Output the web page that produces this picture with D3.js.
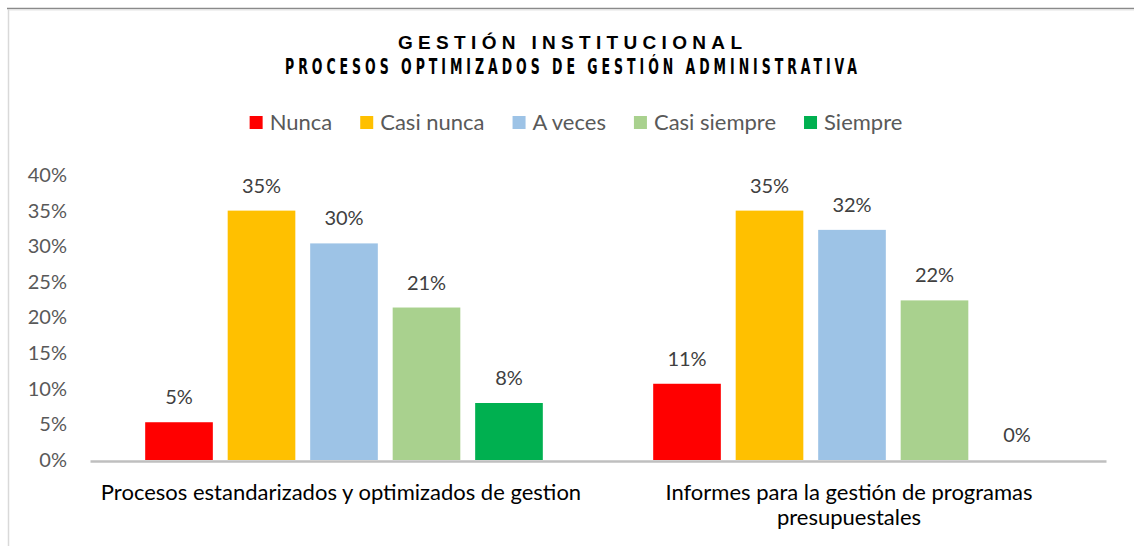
<!DOCTYPE html>
<html>
<head>
<meta charset="utf-8">
<script src="https://cdn.jsdelivr.net/npm/d3@7"></script>
<style>
  html, body { margin: 0; padding: 0; background: #fff; }
  svg { display: block; }
</style>
</head>
<body>
<svg id="chart" width="1134" height="546"></svg>
<script>
// ---- data ----
const title = "GESTIÓN INSTITUCIONAL";
const subtitle = "PROCESOS OPTIMIZADOS DE GESTIÓN ADMINISTRATIVA";
const categories = ["Procesos estandarizados y optimizados de gestion", "Informes para la gestión de programas presupuestales"];
const categoryLines = [["Procesos estandarizados y optimizados de gestion"], ["Informes para la gestión de programas", "presupuestales"]];
const series = ["Nunca", "Casi nunca", "A veces", "Casi siempre", "Siempre"];
const colors = ["#FF0000", "#FFC000", "#9DC3E6", "#A9D18E", "#00B050"];
const valuesProcesos = [0.053, 0.35, 0.304, 0.214, 0.08];
const valuesInformes = [0.107, 0.35, 0.323, 0.224, 0.0];
const yTicks = [0, 0.05, 0.10, 0.15, 0.20, 0.25, 0.30, 0.35, 0.40];

const values = [valuesProcesos, valuesInformes];
const FONT = "Lato, 'Open Sans', sans-serif";

const svg = d3.select("#chart");

// frame
svg.append("line").attr("x1", 7).attr("x2", 1134).attr("y1", 8.5).attr("y2", 8.5)
  .attr("stroke", "#8a8a8a").attr("stroke-width", 1.5);
svg.append("line").attr("x1", 8.5).attr("x2", 8.5).attr("y1", 9).attr("y2", 546)
  .attr("stroke", "#d9d9d9").attr("stroke-width", 1.5);
svg.append("line").attr("x1", 9).attr("x2", 1134).attr("y1", 10).attr("y2", 10)
  .attr("stroke", "#e4e4e4").attr("stroke-width", 1);

// scales
const plotLeft = 90, plotRight = 1106, plotBottom = 460, plotTop = 175;
const y = d3.scaleLinear().domain([0, 0.4]).range([plotBottom, plotTop]);
const x0 = d3.scaleBand().domain(categories).range([plotLeft, plotRight]).padding(0);
const x1 = d3.scaleBand().domain(series).range([0, x0.bandwidth()])
  .paddingInner(0.18).paddingOuter(0.669);
const color = d3.scaleOrdinal().domain(series).range(colors);
const fmt = d3.format(".0%");

// titles
svg.append("text").attr("x", 570).attr("y", 49)
  .attr("text-anchor", "middle")
  .attr("font-family", "'Liberation Sans', Arial, sans-serif")
  .attr("font-weight", "bold").attr("font-size", 19)
  .attr("fill", "#000")
  .attr("textLength", 344).attr("lengthAdjust", "spacing")
  .text(title);

const subScale = 0.68;
svg.append("g").attr("transform", `translate(571,74) scale(${subScale},1)`)
  .append("text")
  .attr("x", 0).attr("y", 0).attr("text-anchor", "middle")
  .attr("font-family", "'DejaVu Sans Condensed', 'DejaVu Sans', sans-serif")
  .attr("font-weight", "bold").attr("font-size", 20.5)
  .attr("fill", "#000")
  .attr("textLength", 572 / subScale).attr("lengthAdjust", "spacing")
  .text(subtitle);

// legend
const legend = svg.append("g");
const sq = 13, gapText = 7, itemGap = 28;
let lx = 0;
series.forEach((s, i) => {
  const g = legend.append("g").attr("transform", `translate(${lx},0)`);
  g.append("rect").attr("x", 0).attr("y", 116).attr("width", sq).attr("height", sq)
    .attr("fill", color(s));
  const t = g.append("text").attr("x", sq + gapText).attr("y", 130)
    .attr("font-family", FONT).attr("font-size", 22).attr("fill", "#595959").text(s);
  lx += sq + gapText + t.node().getComputedTextLength() + itemGap;
});
const legendWidth = lx - itemGap;
legend.attr("transform", `translate(${576 - legendWidth / 2},0)`);

// y axis labels
const yAxis = d3.axisLeft(y).tickValues(yTicks).tickFormat(fmt).tickSize(0).tickPadding(23);
const ya = svg.append("g").attr("transform", `translate(${plotLeft},0)`).call(yAxis);
ya.select(".domain").remove();
ya.selectAll("text").attr("font-family", FONT).attr("font-size", 20).attr("fill", "#595959");

// bars
const groups = svg.append("g").selectAll("g").data(categories).join("g")
  .attr("transform", d => `translate(${x0(d)},0)`);

groups.each(function (cat, ci) {
  const g = d3.select(this);
  const data = series.map((s, si) => ({ s, v: values[ci][si] }));
  g.selectAll("rect").data(data).join("rect")
    .attr("x", d => x1(d.s))
    .attr("y", d => y(d.v))
    .attr("width", x1.bandwidth())
    .attr("height", d => plotBottom - y(d.v))
    .attr("fill", d => color(d.s));
  g.selectAll("text.lbl").data(data).join("text").attr("class", "lbl")
    .attr("x", d => x1(d.s) + x1.bandwidth() / 2)
    .attr("y", d => y(d.v) - 18)
    .attr("text-anchor", "middle")
    .attr("font-family", FONT).attr("font-size", 20).attr("fill", "#404040")
    .text(d => fmt(d.v));
});

// x axis line
const xAxis = d3.axisBottom(x0).tickSize(0).tickFormat("");
const xa = svg.append("g").attr("transform", `translate(0,${plotBottom + 1})`).call(xAxis);
xa.select(".domain").attr("stroke", "#bfbfbf").attr("stroke-width", 2.5);

// category labels
categories.forEach((c, ci) => {
  const cx = x0(c) + x0.bandwidth() / 2 - 3;
  const t = svg.append("text").attr("text-anchor", "middle")
    .attr("font-family", FONT).attr("font-size", 22).attr("fill", "#000");
  categoryLines[ci].forEach((line, li) => {
    t.append("tspan").attr("x", cx).attr("y", 500 + li * 25).text(line);
  });
});
</script>
</body>
</html>
